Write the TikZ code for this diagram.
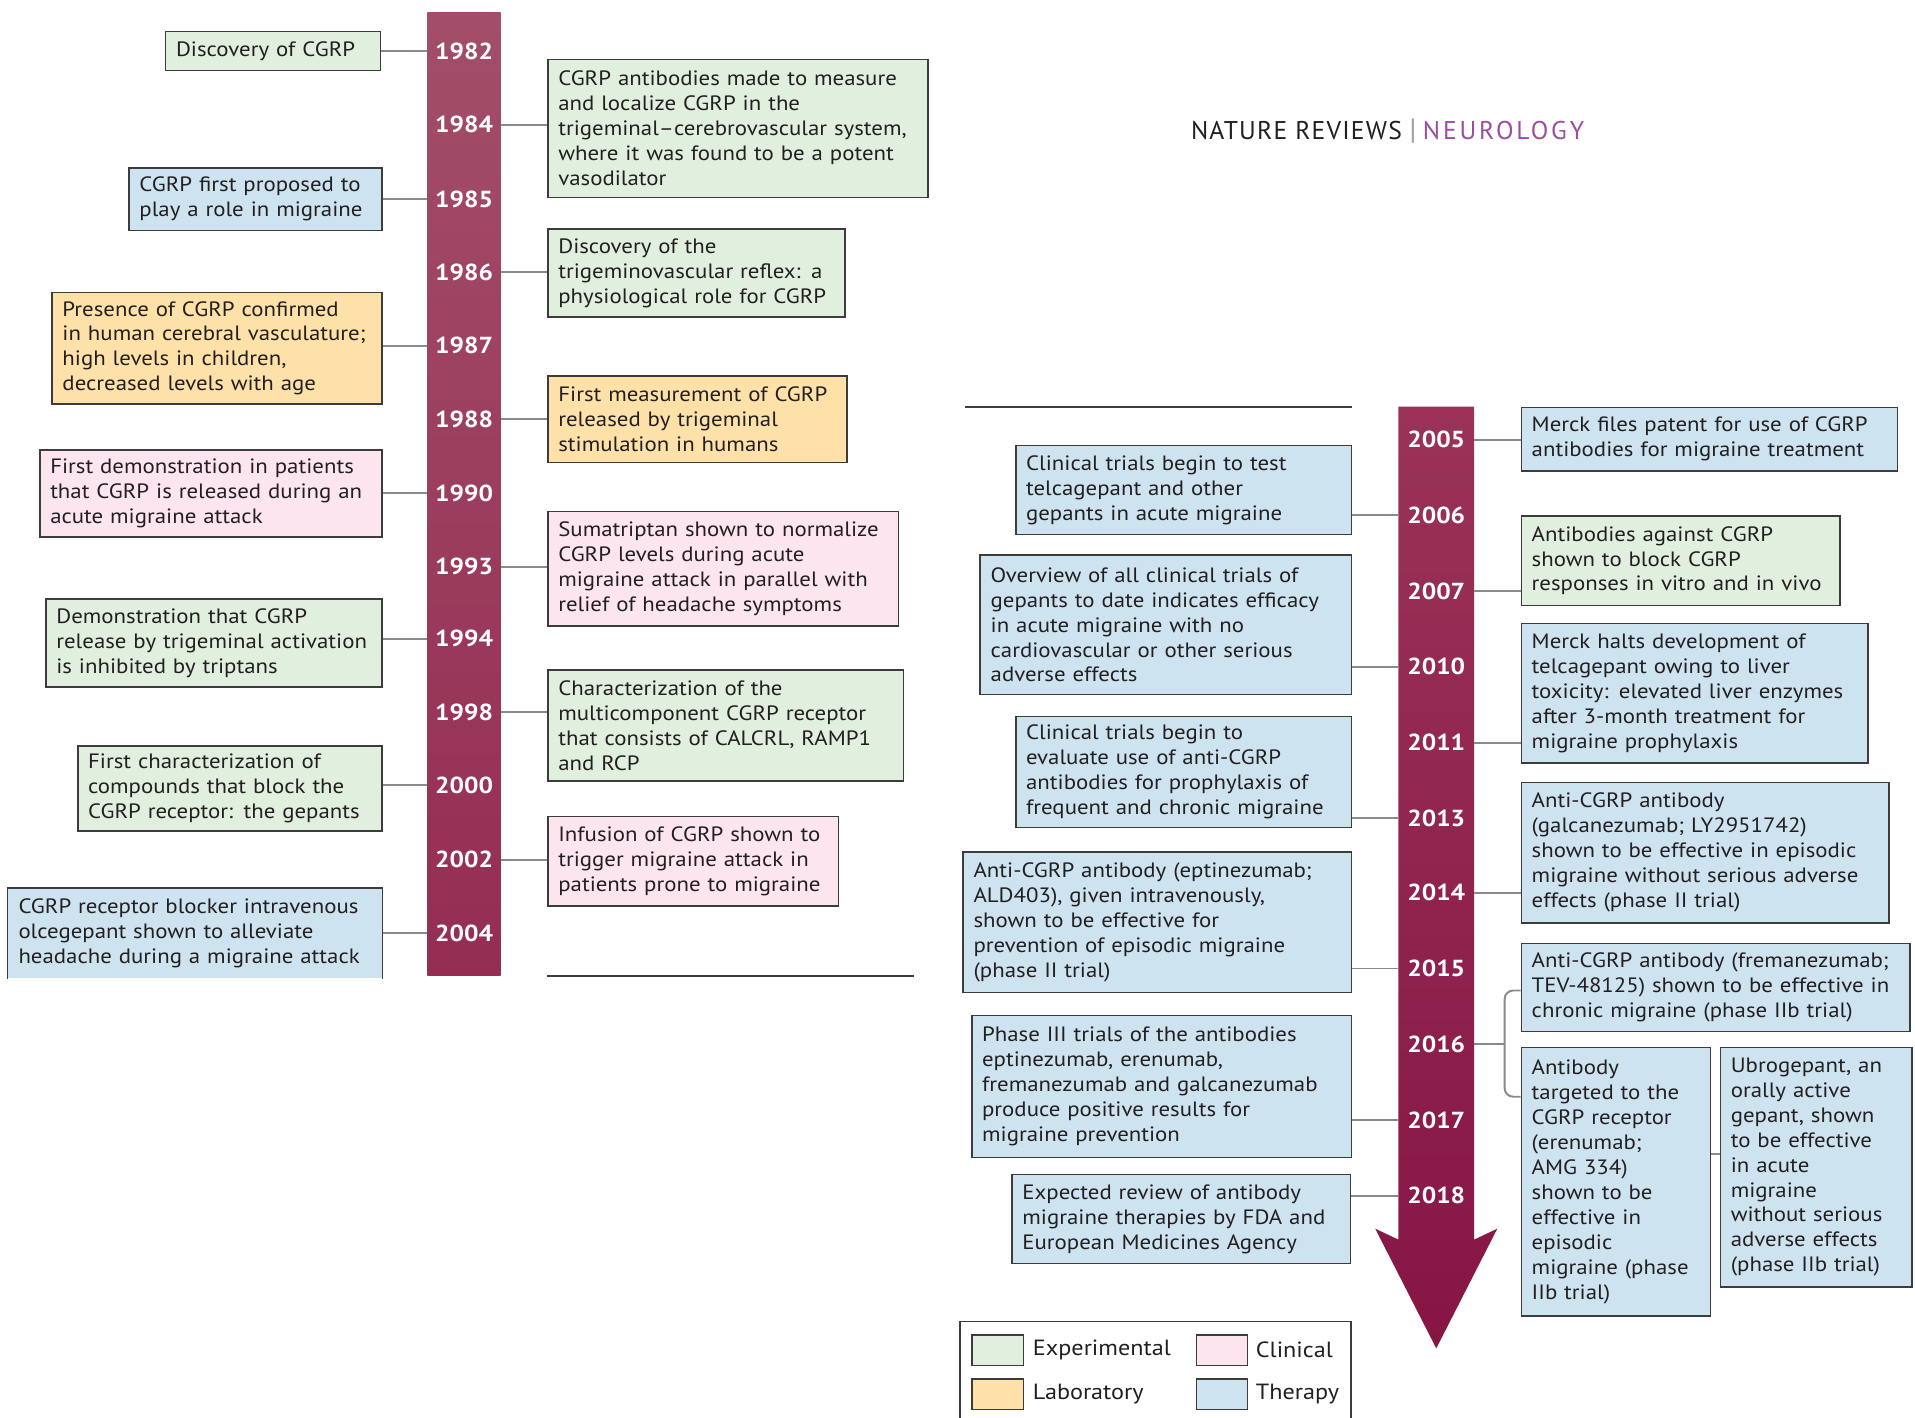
\documentclass[tikz,border=0pt]{standalone}
\usepackage{fontspec}
\setmainfont{PT Sans}[FakeStretch=1.1]
\newfontfamily\hdrfont{PT Sans}[LetterSpace=4.5]
\newfontfamily\hdrfontb{PT Sans}[LetterSpace=11]
\definecolor{cExp}{HTML}{E1EFDF}
\definecolor{cCli}{HTML}{FCE5EF}
\definecolor{cLab}{HTML}{FDE1A9}
\definecolor{cThe}{HTML}{CDE3F0}
\definecolor{cBorder}{HTML}{3C3C3C}
\definecolor{cText}{HTML}{231F20}
\definecolor{cConn}{HTML}{8A8A8A}
\definecolor{barTopL}{HTML}{A24E69}
\definecolor{barBotL}{HTML}{952D53}
\definecolor{barTopR}{HTML}{9A3357}
\definecolor{barBotR}{HTML}{861546}
\definecolor{neuro}{HTML}{9C4E9E}
\newcommand\evbox[7]{%
  \pgfmathsetmacro\evW{#4-#2}%
  \pgfmathsetmacro\evH{#5-#3}%
  \pgfmathsetmacro\evT{#4-#2-17}%
  \node[evt, fill=#6, minimum width=\evW pt, minimum height=\evH pt, text width=\evT pt] (#1) at (#2,#3) {#7};}
\begin{document}
\begin{tikzpicture}[x=1pt,y=-1pt,
  evt/.style={draw=cBorder, line width=1.3pt, inner xsep=8.5pt, inner ysep=0pt, align=left,
    font=\fontsize{17}{20.4}\selectfont, text=cText, anchor=north west},
  yr/.style={text=white, font=\bfseries\fontsize{19}{20}\selectfont, inner sep=0pt, minimum height=20pt},
  conn/.style={draw=cConn, line width=1.6pt},
  swatch/.style={draw=cBorder, line width=1.2pt, minimum width=42pt, minimum height=25pt, inner sep=0pt},
  legtxt/.style={anchor=west, inner sep=0pt, text=cText, font=\fontsize{18}{20}\selectfont}]
\useasboundingbox (0,0) rectangle (1568,1161);
\fill[white] (0,0) rectangle (1568,1161);

% ---------- left panel ----------
\shade[top color=barTopL, bottom color=barBotL] (350,10) rectangle (410,799);
\foreach \yy/\yl in {1982/42,1984/102,1985/163,1986/223,1987/283,1988/343,1990/404,1993/464,1994/523,1998/583,2000/643,2002/704,2004/764}
  \node[yr, minimum width=60pt] (y\yy) at (380,\yl) {\yy};

\evbox{l1}{135}{25}{311}{57}{cExp}{Discovery of CGRP}
\evbox{l2}{105}{137}{312}{188}{cThe}{CGRP first proposed to\\play a role in migraine}
\evbox{l3}{42}{239}{312}{330}{cLab}{Presence of CGRP confirmed\\in human cerebral vasculature;\\high levels in children,\\decreased levels with age}
\evbox{l4}{32}{368}{312}{439}{cCli}{First demonstration in patients\\that CGRP is released during an\\acute migraine attack}
\evbox{l5}{37}{490}{312}{562}{cExp}{Demonstration that CGRP\\release by trigeminal activation\\is inhibited by triptans}
\evbox{l6}{63}{610}{312}{680}{cExp}{First characterization of\\compounds that block the\\CGRP receptor: the gepants}
\node[evt, draw=none, fill=cThe, minimum width=306pt, minimum height=73pt, text width=289pt] (l7) at (6,727)
  {CGRP receptor blocker intravenous\\olcegepant shown to alleviate\\headache during a migraine attack};
\draw[cBorder, line width=1.3pt] (l7.south west) -- (l7.north west) -- (l7.north east) -- (l7.south east);

\evbox{m1}{448}{48}{759}{161}{cExp}{CGRP antibodies made to measure\\and localize CGRP in the\\trigeminal--cerebrovascular system,\\where it was found to be a potent\\vasodilator}
\evbox{m2}{448}{187}{691}{259}{cExp}{Discovery of the\\trigeminovascular reflex: a\\physiological role for CGRP}
\evbox{m3}{448}{307}{693}{378}{cLab}{First measurement of CGRP\\released by trigeminal\\stimulation in humans}
\evbox{m4}{448}{418}{735}{512}{cCli}{Sumatriptan shown to normalize\\CGRP levels during acute\\migraine attack in parallel with\\relief of headache symptoms}
\evbox{m5}{448}{548}{739}{639}{cExp}{Characterization of the\\multicomponent CGRP receptor\\that consists of CALCRL, RAMP1\\and RCP}
\evbox{m6}{448}{668}{686}{741}{cCli}{Infusion of CGRP shown to\\trigger migraine attack in\\patients prone to migraine}
\coordinate (cutA) at (448,799);
\coordinate (cutB) at (748,799);
\draw[cBorder, line width=1.3pt] (cutA) -- (cutB);

\foreach \b/\yy in {l1/1982,l2/1985,l3/1987,l4/1990,l5/1994,l6/2000,l7/2004}
  \draw[conn] (\b.east |- y\yy) -- (y\yy.west);
\foreach \b/\yy in {m1/1984,m2/1986,m3/1988,m4/1993,m5/1998,m6/2002}
  \draw[conn] (y\yy.east) -- (\b.west |- y\yy);

% ---------- header ----------
\node[anchor=base west, inner sep=0pt, font=\fontsize{21}{21}\selectfont] (hdr) at (975,114)
  {{\hdrfont\color{cText}NATURE REVIEWS}\hspace{6pt}{\color{gray!70}\fontsize{24}{24}\selectfont|}\hspace{5pt}{\hdrfontb\color{neuro}NEUROLOGY}};

% ---------- right panel ----------
\coordinate (cutC) at (790,333);
\coordinate (cutD) at (1107,333);
\draw[cBorder, line width=1.6pt] (cutC) -- (cutD);
\shade[top color=barTopR, bottom color=barBotR]
  (1145,333) -- (1207,333) -- (1207,1015) -- (1226,1006) -- (1176,1104) -- (1126,1006) -- (1145,1015) -- cycle;
\foreach \yy/\yl in {2005/360,2006/422,2007/484,2010/546,2011/608,2013/670,2014/731,2015/793,2016/855,2017/917,2018/979}
  \node[yr, minimum width=62pt] (y\yy) at (1176,\yl) {\yy};

\evbox{p1}{831}{364}{1106}{437}{cThe}{Clinical trials begin to test\\telcagepant and other\\gepants in acute migraine}
\evbox{p2}{802}{454}{1106}{568}{cThe}{Overview of all clinical trials of\\gepants to date indicates efficacy\\in acute migraine with no\\cardiovascular or other serious\\adverse effects}
\evbox{p3}{831}{586}{1106}{677}{cThe}{Clinical trials begin to\\evaluate use of anti-CGRP\\antibodies for prophylaxis of\\frequent and chronic migraine}
\evbox{p4}{788}{697}{1106}{812}{cThe}{Anti-CGRP antibody (eptinezumab;\\ALD403), given intravenously,\\shown to be effective for\\prevention of episodic migraine\\(phase II trial)}
\evbox{p5}{795}{831}{1106}{947}{cThe}{Phase III trials of the antibodies\\eptinezumab, erenumab,\\fremanezumab and galcanezumab\\produce positive results for\\migraine prevention}
\evbox{p6}{828}{961}{1105}{1034}{cThe}{Expected review of antibody\\migraine therapies by FDA and\\European Medicines Agency}

\evbox{q1}{1245}{333}{1553}{385}{cThe}{Merck files patent for use of CGRP\\antibodies for migraine treatment}
\evbox{q2}{1245}{422}{1506}{495}{cExp}{Antibodies against CGRP\\shown to block CGRP\\responses in vitro and in vivo}
\evbox{q3}{1245}{510}{1529}{624}{cThe}{Merck halts development of\\telcagepant owing to liver\\toxicity: elevated liver enzymes\\after 3-month treatment for\\migraine prophylaxis}
\evbox{q4}{1245}{640}{1546}{755}{cThe}{Anti-CGRP antibody\\(galcanezumab; LY2951742)\\shown to be effective in episodic\\migraine without serious adverse\\effects (phase II trial)}
\evbox{q5}{1245}{772}{1563}{844}{cThe}{Anti-CGRP antibody (fremanezumab;\\TEV-48125) shown to be effective in\\chronic migraine (phase IIb trial)}
\evbox{q6}{1245}{857}{1400}{1077}{cThe}{Antibody\\targeted to the\\CGRP receptor\\(erenumab;\\AMG 334)\\shown to be\\effective in\\episodic\\migraine (phase\\IIb trial)}
\evbox{q7}{1408}{857}{1565}{1053}{cThe}{Ubrogepant, an\\orally active\\gepant, shown\\to be effective\\in acute\\migraine\\without serious\\adverse effects\\(phase IIb trial)}

\foreach \b/\yy in {p1/2006,p2/2010,p3/2013,p4/2015,p5/2017,p6/2018}
  \draw[conn] (\b.east |- y\yy) -- (y\yy.west);
\foreach \b/\yy in {q1/2005,q2/2007,q3/2011,q4/2014}
  \draw[conn] (y\yy.east) -- (\b.west |- y\yy);
\coordinate (brk) at (1232,855);
\draw[conn] (y2016.east) -- (brk);
\draw[conn, rounded corners=7pt] (q5.west |- 0,811) -- (1232,811) -- (1232,898) -- (q6.west |- 0,898);
\draw[conn] (q6.east |- 0,945) -- (q7.west |- 0,945);

% ---------- legend ----------
\coordinate (lgA) at (786,1161);
\coordinate (lgB) at (786,1082);
\coordinate (lgC) at (1106,1082);
\coordinate (lgD) at (1106,1161);
\draw[cBorder, line width=1.3pt] (lgA) -- (lgB) -- (lgC) -- (lgD);
\node[swatch, fill=cExp] (sw1) at (817,1105.5) {};
\node[swatch, fill=cCli] (sw2) at (1000.5,1105.5) {};
\node[swatch, fill=cLab] (sw3) at (817,1141.5) {};
\node[swatch, fill=cThe] (sw4) at (1000.5,1141.5) {};
\node[legtxt] (lt1) at ([xshift=7pt]sw1.east) {Experimental};
\node[legtxt] (lt2) at ([xshift=6pt]sw2.east) {Clinical};
\node[legtxt] (lt3) at ([xshift=7pt]sw3.east) {Laboratory};
\node[legtxt] (lt4) at ([xshift=6pt]sw4.east) {Therapy};
\end{tikzpicture}
\end{document}
